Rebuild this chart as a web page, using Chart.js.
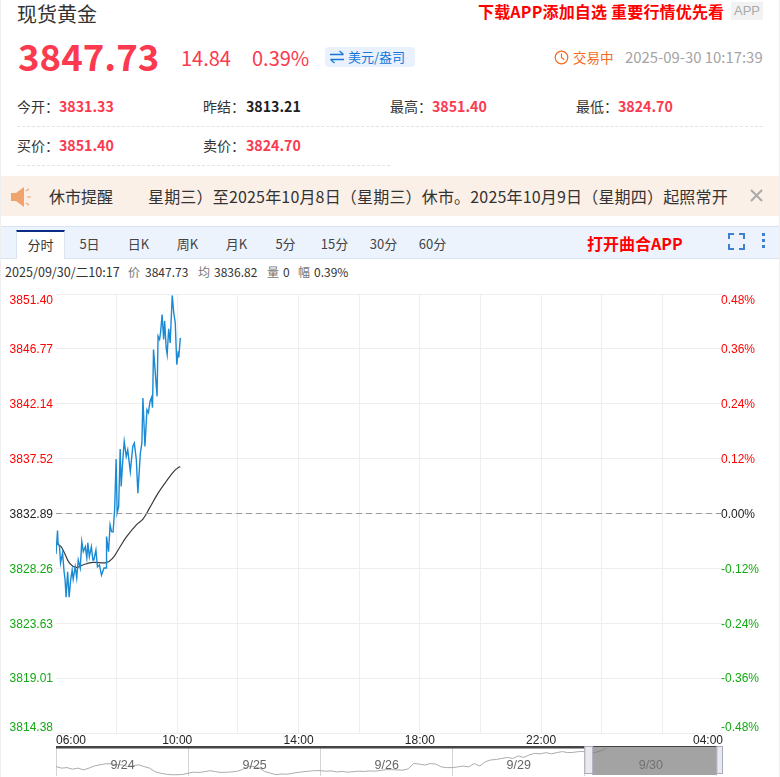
<!DOCTYPE html>
<html>
<head>
<meta charset="utf-8">
<title>现货黄金</title>
<script src="https://cdn.jsdelivr.net/npm/chart.js@4/dist/chart.umd.min.js"></script>
<style>
html, body { margin: 0; padding: 0; background: #fff; }
body { width: 780px; height: 777px; position: relative; overflow: hidden; font-family: "Noto Sans CJK SC", "Noto Sans", sans-serif; color: #333; }
.t { position: absolute; white-space: nowrap; line-height: 1; }
.red { color: #fb3a50; }
.b { font-weight: 700; }
.lbl { font-size: 14px; color: #333; }
.val { font-size: 14.2px; font-weight: 700; color: #fb3a50; }
.dash { position: absolute; border-top: 1px dashed #e3e3e3; height: 0; }
.tab { position: absolute; top: 237px; font-size: 13px; color: #444; line-height: 1; width: 49px; text-align: center; }
#main { position: absolute; left: 0; top: 285px; }
#nav { position: absolute; left: 56px; top: 746px; }
</style>
</head>
<body>
<div style="position:absolute;left:0;top:0;width:1px;height:777px;background:#eee"></div>
<div style="position:absolute;right:0;top:0;width:1px;height:777px;background:#eee"></div>

<div class="t" style="left:17px;top:4px;font-size:20px">现货黄金</div>
<div class="t b" style="left:478px;top:3px;font-size:16px;letter-spacing:0.18px;color:#f00">下载APP添加自选 重要行情优先看</div>
<div class="t" style="left:731px;top:2px;width:32px;height:18px;line-height:18px;background:#f2f2f2;color:#aaa;font-size:13px;text-align:center;font-family:'Liberation Sans'">APP</div>

<div class="t b red" style="left:18px;top:38px;font-size:36.6px">3847.73</div>
<div class="t red" style="left:181px;top:48px;font-size:20px">14.84</div>
<div class="t red" style="left:252px;top:48px;font-size:20px">0.39%</div>
<div style="position:absolute;left:325px;top:47px;width:90px;height:20px;background:#e8f1fd;border-radius:4px"></div>
<svg style="position:absolute;left:329px;top:50px" width="16" height="14" viewBox="0 0 16 14" fill="none" stroke="#1677d8" stroke-width="1.3"><path d="M1 4.5H14.5M10.5 1L14.5 4.5M15 9.5H1.5M5.5 13L1.5 9.5"/></svg>
<div class="t" style="left:348px;top:50px;font-size:13px;color:#1677d8">美元/盎司</div>
<svg style="position:absolute;left:554px;top:50px" width="15" height="15" viewBox="0 0 15 15" fill="none" stroke="#f56a1d" stroke-width="1.2"><circle cx="7.5" cy="7.5" r="6.3"/><path d="M7.5 3.5V7.8L10.3 9.8"/></svg>
<div class="t" style="left:573px;top:51px;font-size:13.5px;color:#f56a1d">交易中</div>
<div class="t" style="left:625px;top:50px;font-size:14.9px;color:#a3a3a3">2025-09-30 10:17:39</div>

<div class="t lbl" style="left:17px;top:99px">今开：</div><div class="t val" style="left:59px;top:99px">3831.33</div>
<div class="t lbl" style="left:203px;top:99px">昨结：</div><div class="t val" style="left:246px;top:99px;color:#222">3813.21</div>
<div class="t lbl" style="left:390px;top:99px">最高：</div><div class="t val" style="left:432px;top:99px">3851.40</div>
<div class="t lbl" style="left:576px;top:99px">最低：</div><div class="t val" style="left:618px;top:99px">3824.70</div>
<div class="dash" style="left:17px;top:126px;width:746px"></div>
<div class="t lbl" style="left:17px;top:138px">买价：</div><div class="t val" style="left:59px;top:138px">3851.40</div>
<div class="t lbl" style="left:203px;top:138px">卖价：</div><div class="t val" style="left:246px;top:138px">3824.70</div>
<div class="dash" style="left:17px;top:165px;width:373px"></div>

<div style="position:absolute;left:1px;top:176px;width:778px;height:40px;background:#fbf0e7"></div>
<svg style="position:absolute;left:10px;top:186px" width="24" height="22" viewBox="0 0 24 22"><path d="M1 7H6L14 1V21L6 15H1Z" fill="#f0a36b"/><path d="M17 11H21M16 5L19 3M16 17L19 19" stroke="#f0a36b" stroke-width="1.2"/></svg>
<div class="t" style="left:49px;top:188px;font-size:16px">休市提醒</div>
<div class="t" style="left:148px;top:188px;font-size:16px;letter-spacing:0.18px">星期三）至2025年10月8日（星期三）休市。2025年10月9日（星期四）起照常开</div>
<svg style="position:absolute;left:750px;top:189px" width="13" height="13" viewBox="0 0 13 13" stroke="#a9a9a9" stroke-width="2"><path d="M1 1L12 12M12 1L1 12"/></svg>

<div style="position:absolute;left:1px;top:226px;width:778px;height:31px;background:#edf3fc;border-top:1px solid #d9e3f2;border-bottom:1px solid #d9e3f2"></div>
<div style="position:absolute;left:16px;top:230px;width:47px;height:27px;background:#fff;border-top:2px solid #0a2c84;border-left:1px solid #d9e3f2;border-right:1px solid #d9e3f2"></div>
<div class="tab" style="left:16px;top:238px;color:#333">分时</div>
<div class="tab" style="left:65px">5日</div>
<div class="tab" style="left:114px">日K</div>
<div class="tab" style="left:163px">周K</div>
<div class="tab" style="left:212px">月K</div>
<div class="tab" style="left:261px">5分</div>
<div class="tab" style="left:310px">15分</div>
<div class="tab" style="left:359px">30分</div>
<div class="tab" style="left:408px">60分</div>
<div class="t b" style="left:587px;top:235px;font-size:16px;color:#f00">打开曲合APP</div>
<svg style="position:absolute;left:728px;top:233px" width="17" height="17" viewBox="0 0 17 17" fill="none" stroke="#3f7fd0" stroke-width="2"><path d="M1 6V1H6M11 1H16V6M16 11V16H11M6 16H1V11"/></svg>
<svg style="position:absolute;left:761px;top:233px" width="5" height="16" viewBox="0 0 5 16" fill="#3f7fd0"><rect x="1" y="0" width="3" height="3"/><rect x="1" y="6" width="3" height="3"/><rect x="1" y="12" width="3" height="3"/></svg>

<div class="t" style="left:5px;top:266px;font-size:12.6px;color:#333">2025/09/30/二10:17</div>
<div class="t" style="left:128px;top:266px;font-size:12px;color:#777">价</div>
<div class="t" style="left:145px;top:266px;font-size:12px">3847.73</div>
<div class="t" style="left:198px;top:266px;font-size:12px;color:#777">均</div>
<div class="t" style="left:214px;top:266px;font-size:12px">3836.82</div>
<div class="t" style="left:267px;top:266px;font-size:12px;color:#777">量</div>
<div class="t" style="left:283px;top:266px;font-size:12px">0</div>
<div class="t" style="left:298px;top:266px;font-size:12px;color:#777">幅</div>
<div class="t" style="left:314px;top:266px;font-size:12px">0.39%</div>

<canvas id="main" width="780" height="462"></canvas>
<canvas id="nav" width="667" height="30"></canvas>

<script>
// minutes after 06:00 and the price read at that minute
var priceMinutes = [0,3,4,7,9,13,16,18,20,23,26,29,32,34,38,41,44,48,51,54,58,61,63,66,70,73,75,79,82,86,90,95,99,100,104,107,110,113,116,119,121,124,127,129,132,135,139,142,147,152,155,159,162,167,170,172,176,180,183,186,189,191,193,196,200,202,205,207,210,213,215,218,220,223,226,230,233,236,239,242,243,246];
var priceValues = [3829.48,3831.45,3830.41,3830.09,3828.72,3829.56,3827.98,3827.28,3825.84,3827.98,3825.84,3827.28,3828.12,3827.36,3828.40,3827.45,3828.97,3828.29,3830.52,3829.67,3830.09,3829.14,3830.41,3829.25,3830.09,3828.97,3828.97,3829.81,3828.40,3828.55,3827.70,3828.29,3828.29,3830.94,3829.67,3831.93,3831.36,3831.34,3833.19,3837.48,3832.94,3833.47,3838.32,3835.16,3837.28,3838.97,3837.70,3838.26,3836.43,3838.54,3838.83,3837.42,3834.61,3837.99,3838.83,3842.63,3838.54,3841.64,3841.39,3842.32,3842.66,3841.81,3846.71,3845.02,3842.77,3847.84,3847.56,3848.18,3849.67,3847.56,3849.11,3846.86,3846.29,3848.46,3847.28,3851.28,3849.82,3848.97,3845.45,3846.57,3846.04,3847.70];
var avgMinutes = [1,10,17,27,40,53,73,99,112,125,139,159,172,185,202,218,235,243,246];
var avgValues = [3830.38,3830.09,3829.54,3828.69,3828.35,3828.55,3828.77,3828.74,3829.11,3829.96,3830.89,3831.93,3832.41,3833.34,3834.61,3835.59,3836.52,3836.80,3836.82];
var baseValue = 3832.89;
var priceTicks = [3814.38,3819.01,3823.63,3828.26,3832.89,3837.52,3842.14,3846.77,3851.40];
var percentTicks = [-0.48,-0.36,-0.24,-0.12,0,0.12,0.24,0.36,0.48];
var timeTicks = [0,120,240,360,480,600,720,840,960,1080,1200,1320];
var timeLabels = ['06:00','','10:00','','14:00','','18:00','','22:00','','','04:00'];

// overview strip, one value per hour of each trading day
var navDay1 = [3779,3773,3775,3769,3773,3766,3773,3782,3786,3790,3790,3786,3786,3779,3782,3786,3779,3773,3759,3753,3749,3747,3747,3748];
var navDay2 = [3753,3757,3756,3759,3763,3759,3756,3757,3758,3761,3769,3779,3779,3773,3759,3753,3747,3750,3749,3753,3756,3759,3761,3763];
var navDay3 = [3763,3761,3762,3758,3760,3757,3759,3761,3760,3762,3761,3764,3767,3767,3766,3765,3770,3791,3789,3785,3791,3789,3778,3775];
var navDay4 = [3775,3778,3781,3778,3791,3781,3798,3805,3807,3811,3815,3811,3821,3815,3825,3831,3829,3834,3829,3834,3838,3834,3835,3838];
var navDay5 = [3838,3831,3835,3841,3851];
var navLabels = ['9/24','9/25','9/26','9/29','9/30'];

Chart.defaults.font.family = '"Liberation Sans", Arial, sans-serif';
Chart.defaults.font.size = 12;
Chart.defaults.animation = false;

function pairs(xs, ys) {
    return xs.map(function (x, i) { return { x: x, y: ys[i] }; });
}
function tickColor(v) {
    return v > 0 ? '#f00' : (v < 0 ? '#12a912' : '#222');
}
// stop the outer tick labels from pushing the plot area in
function noPadding(s) {
    s.paddingTop = s.paddingBottom = s.paddingLeft = s.paddingRight = 0;
}

var main = new Chart(document.getElementById('main'), {
    type: 'line',
    data: {
        datasets: [
            { data: pairs([0, 1320], [baseValue, baseValue]), borderColor: '#999', borderWidth: 1, borderDash: [6, 4], pointRadius: 0 },
            { data: pairs(priceMinutes, priceValues), borderColor: '#1a8ad4', borderWidth: 1.4, pointRadius: 0 },
            { data: pairs(avgMinutes, avgValues), borderColor: '#3a3a3a', borderWidth: 1.2, pointRadius: 0, tension: 0.4 }
        ]
    },
    options: {
        responsive: false,
        devicePixelRatio: 1,
        layout: { padding: { top: 9, left: 0, right: 0, bottom: 0 } },
        plugins: { legend: { display: false }, tooltip: { enabled: false } },
        scales: {
            x: {
                type: 'linear',
                min: 0,
                max: 1320,
                afterBuildTicks: function (s) { s.ticks = timeTicks.map(function (v) { return { value: v }; }); },
                afterFit: function (s) { s.height = 14; noPadding(s); },
                border: { display: false },
                grid: {
                    drawTicks: false,
                    color: function (c) { return (c.index === 0 || c.index === timeTicks.length - 1) ? 'transparent' : '#eeeeee'; }
                },
                ticks: {
                    autoSkip: false,
                    maxRotation: 0,
                    align: 'inner',
                    padding: 0,
                    color: '#222',
                    callback: function (v, i) { return timeLabels[i]; }
                }
            },
            y: {
                position: 'left',
                min: priceTicks[0],
                max: priceTicks[priceTicks.length - 1],
                afterBuildTicks: function (s) { s.ticks = priceTicks.map(function (v) { return { value: v }; }); },
                afterFit: function (s) { s.width = 56; noPadding(s); },
                border: { display: false },
                grid: { drawTicks: false, color: '#eeeeee' },
                ticks: {
                    padding: 3,
                    labelOffset: 1,
                    font: { lineHeight: 1 },
                    color: function (c) { return tickColor(c.tick.value - baseValue); },
                    // the blank line keeps the outer labels inside the plot height
                    callback: function (v, i) {
                        var s = v.toFixed(2);
                        if (i === 0) return [s, ''];
                        if (i === priceTicks.length - 1) return ['', s];
                        return s;
                    }
                }
            },
            y2: {
                position: 'right',
                min: percentTicks[0],
                max: percentTicks[percentTicks.length - 1],
                afterBuildTicks: function (s) { s.ticks = percentTicks.map(function (v) { return { value: v }; }); },
                afterFit: function (s) {
                    s.width = 57;
                    noPadding(s);
                    // labels start a little left of the axis, so no clipping to it
                    s._computeLabelArea = function () {};
                },
                border: { display: false },
                grid: { display: false, drawTicks: false },
                ticks: {
                    padding: -2,
                    labelOffset: 1,
                    font: { lineHeight: 1 },
                    color: function (c) { return tickColor(c.tick.value); },
                    callback: function (v, i) {
                        var s = v.toFixed(2) + '%';
                        if (i === 0) return [s, ''];
                        if (i === percentTicks.length - 1) return ['', s];
                        return s;
                    }
                }
            }
        }
    }
});

var navPrices = navDay1.concat(navDay2, navDay3, navDay4, navDay5);

var navDecor = {
    id: 'navDecor',
    afterDatasetsDraw: function (chart) {
        var ctx = chart.ctx, x = chart.scales.x, a = chart.chartArea;
        var selL = x.getPixelForValue(4.06), selR = x.getPixelForValue(5);
        var hL = x.getPixelForValue(4), hR = x.getPixelForValue(5.05);
        ctx.save();
        ctx.fillStyle = '#666';
        ctx.textAlign = 'center';
        ctx.textBaseline = 'middle';
        ctx.font = '12.5px "Liberation Sans"';
        navLabels.forEach(function (t, i) {
            ctx.fillText(t, x.getPixelForValue(i + 0.5) + 0.5, 20);
        });
        ctx.fillStyle = 'rgba(120,120,120,0.68)';
        ctx.fillRect(selL, a.top + 1, selR - selL, a.bottom - a.top - 2);
        ctx.fillStyle = '#444';
        ctx.fillRect(a.left, a.top, hL - a.left, 2.5);
        ctx.fillRect(hL, a.top, hR - hL, 1);
        ctx.fillStyle = '#e9e9ef';
        ctx.strokeStyle = '#a6abb9';
        ctx.fillRect(hL + 0.5, a.top + 0.5, selL - hL, a.bottom - a.top - 3);
        ctx.strokeRect(hL + 0.5, a.top + 0.5, selL - hL, a.bottom - a.top - 3);
        ctx.fillRect(selR + 0.5, a.top + 0.5, hR - selR - 1, a.bottom - a.top - 3);
        ctx.strokeRect(selR + 0.5, a.top + 0.5, hR - selR - 1, a.bottom - a.top - 3);
        ctx.restore();
    }
};

var nav = new Chart(document.getElementById('nav'), {
    type: 'line',
    data: {
        datasets: [{
            data: navPrices.map(function (p, i) { return { x: i / 24, y: p }; }),
            borderColor: '#ababab',
            borderWidth: 1,
            pointRadius: 0
        }]
    },
    options: {
        responsive: false,
        devicePixelRatio: 1,
        layout: { padding: 0 },
        plugins: { legend: { display: false }, tooltip: { enabled: false } },
        scales: {
            x: {
                type: 'linear',
                min: 0,
                max: 5.05,
                display: true,
                afterBuildTicks: function (s) { s.ticks = [0, 1, 2, 3, 4, 5].map(function (v) { return { value: v }; }); },
                afterFit: function (s) { s.height = 0; },
                border: { display: false },
                grid: { drawTicks: false, color: '#d4d4d4' },
                ticks: { display: false }
            },
            y: { min: 3742, max: 3860, display: false }
        }
    },
    plugins: [navDecor]
});
</script>
</body>
</html>
